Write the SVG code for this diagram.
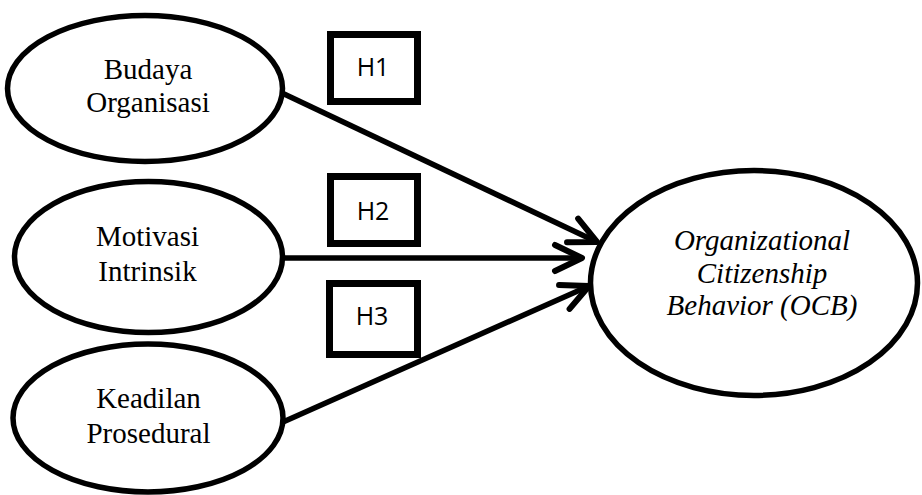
<svg xmlns="http://www.w3.org/2000/svg" width="922" height="495" viewBox="0 0 922 495">
<style>
.node ellipse{fill:#fff;stroke:#000;stroke-width:5.5}
.lbl{font-family:"Liberation Serif","Times New Roman",serif;font-size:29px;fill:#000;text-anchor:middle}
.it{font-style:italic}
.hbox rect{fill:#fff;stroke:#000;stroke-width:7}
.htxt{font-family:"Open Sans","Liberation Sans",sans-serif;font-size:25px;fill:#000;text-anchor:middle}
.edge{stroke:#000;stroke-width:5.5;fill:none;marker-end:url(#arr)}
</style>
<defs>
<marker id="arr" markerUnits="userSpaceOnUse" viewBox="-36 -20 42 40" markerWidth="42" markerHeight="40" refX="0" refY="0" orient="auto">
<path d="M-27,-13 L0,0 L-27,13" fill="none" stroke="#000" stroke-width="6" stroke-linecap="round" stroke-linejoin="round"/>
</marker>
</defs>
<rect width="922" height="495" fill="#fff"/>
<g id="connectors">
<line class="edge" x1="282" y1="93" x2="597" y2="242"/>
<line class="edge" x1="283" y1="258" x2="582" y2="258"/>
<line class="edge" x1="283" y1="422" x2="589" y2="286"/>
</g>
<g id="budaya" class="node">
<ellipse cx="145" cy="88.5" rx="137.5" ry="73"/>
<text class="lbl" x="148" y="79">Budaya</text>
<text class="lbl" x="148" y="112">Organisasi</text>
</g>
<g id="motivasi" class="node">
<ellipse cx="148.5" cy="257" rx="134" ry="75.5"/>
<text class="lbl" x="147.5" y="246">Motivasi</text>
<text class="lbl" x="147.5" y="281">Intrinsik</text>
</g>
<g id="keadilan" class="node">
<ellipse cx="148" cy="418" rx="135" ry="74"/>
<text class="lbl" x="148.5" y="408">Keadilan</text>
<text class="lbl" x="148.5" y="443">Prosedural</text>
</g>
<g id="ocb" class="node">
<ellipse cx="754" cy="283" rx="163.5" ry="112.5"/>
<text class="lbl it" x="762" y="250">Organizational</text>
<text class="lbl it" x="762" y="283">Citizenship</text>
<text class="lbl it" x="762" y="315">Behavior (OCB)</text>
</g>
<g id="h1" class="hbox">
<rect x="330.5" y="34.5" width="87" height="67"/>
<text class="htxt" x="373" y="76">H1</text>
</g>
<g id="h2" class="hbox">
<rect x="330.5" y="176.5" width="87" height="67"/>
<text class="htxt" x="373" y="220">H2</text>
</g>
<g id="h3" class="hbox">
<rect x="329.5" y="283.5" width="88" height="71"/>
<text class="htxt" x="372" y="325">H3</text>
</g>
</svg>
